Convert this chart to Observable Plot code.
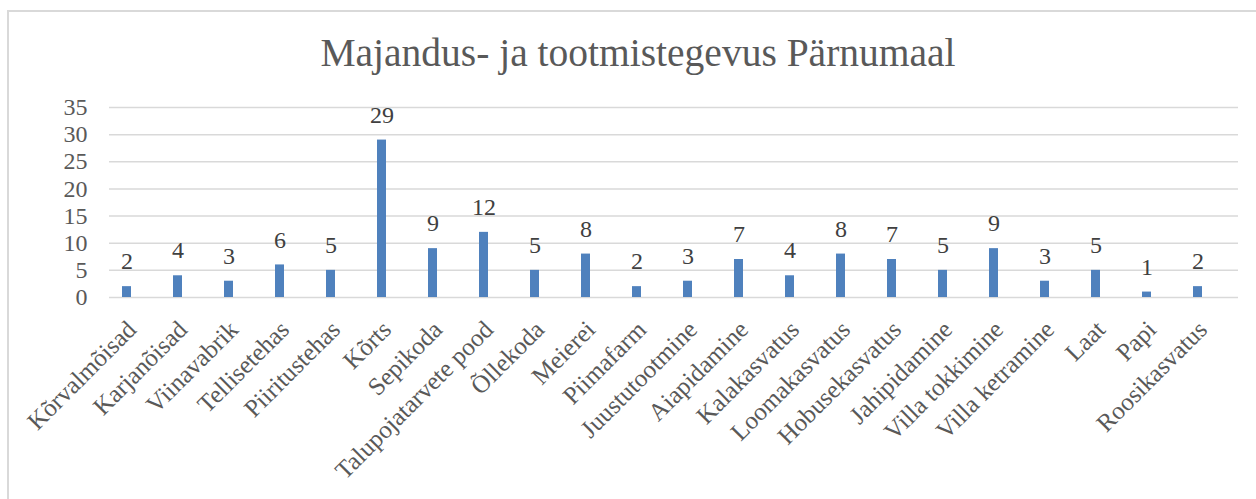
<!DOCTYPE html>
<html>
<head>
<meta charset="utf-8">
<script src="https://cdn.jsdelivr.net/npm/d3@7"></script>
<script src="https://cdn.jsdelivr.net/npm/@observablehq/plot@0.6"></script>
<style>
  html, body { margin: 0; padding: 0; background: #fff; width: 1256px; height: 499px; overflow: hidden; }
  #frame { position: absolute; left: 7px; top: 10px; width: 1300px; height: 600px; border: 2px solid #d9d9d9; box-sizing: border-box; }
  #wrap { position: absolute; left: 0; top: 0; width: 1256px; }
  #title { height: 85px; line-height: 85px; text-align: center; font-family: "Liberation Serif", serif; font-size: 39.5px; color: #595959; }
  #title span { position: relative; top: 11px; left: 10px; }
</style>
</head>
<body>
<div id="frame"></div>
<div id="wrap">
  <div id="title"><span>Majandus- ja tootmistegevus Pärnumaal</span></div>
  <div id="chart"></div>
</div>
<script>
const categories = ["Kõrvalmõisad","Karjanõisad","Viinavabrik","Tellisetehas","Piiritustehas","Kõrts","Sepikoda","Talupojatarvete pood","Õllekoda","Meierei","Piimafarm","Juustutootmine","Aiapidamine","Kalakasvatus","Loomakasvatus","Hobusekasvatus","Jahipidamine","Villa tokkimine","Villa ketramine","Laat","Papi","Roosikasvatus"];
const values = [2,4,3,6,5,29,9,12,5,8,2,3,7,4,8,7,5,9,3,5,1,2];
const yTicks = [0,5,10,15,20,25,30,35];

const data = categories.map((c, i) => ({category: c, value: values[i]}));

const chart = Plot.plot({
  width: 1256,
  height: 414,
  marginTop: 22,
  marginBottom: 202,
  marginLeft: 109,
  marginRight: 18,
  style: {fontFamily: "Liberation Serif, serif", background: "transparent", overflow: "visible"},
  x: {domain: categories, range: [96, 1229], paddingInner: 0.82, paddingOuter: 0.41, label: null},
  y: {domain: [0, 35], ticks: yTicks, label: null},
  marks: [
    Plot.gridY(yTicks, {stroke: "#d9d9d9", strokeOpacity: 1, strokeWidth: 1.5}),
    Plot.barY(data, {x: "category", y: "value", fill: "#4f81bd"}),
    Plot.text(data, {x: "category", y: "value", text: d => String(d.value), dy: -25, fontSize: 24, fill: "#404040"}),
    Plot.axisY(yTicks, {tickSize: 0, tickPadding: 22, fontSize: 24, color: "#595959", label: null}),
    Plot.axisX({tickSize: 0, tickRotate: -45, tickPadding: 16, dx: 5, dy: 12, fontSize: 25, color: "#595959", label: null})
  ]
});
document.getElementById("chart").appendChild(chart);
</script>
</body>
</html>
